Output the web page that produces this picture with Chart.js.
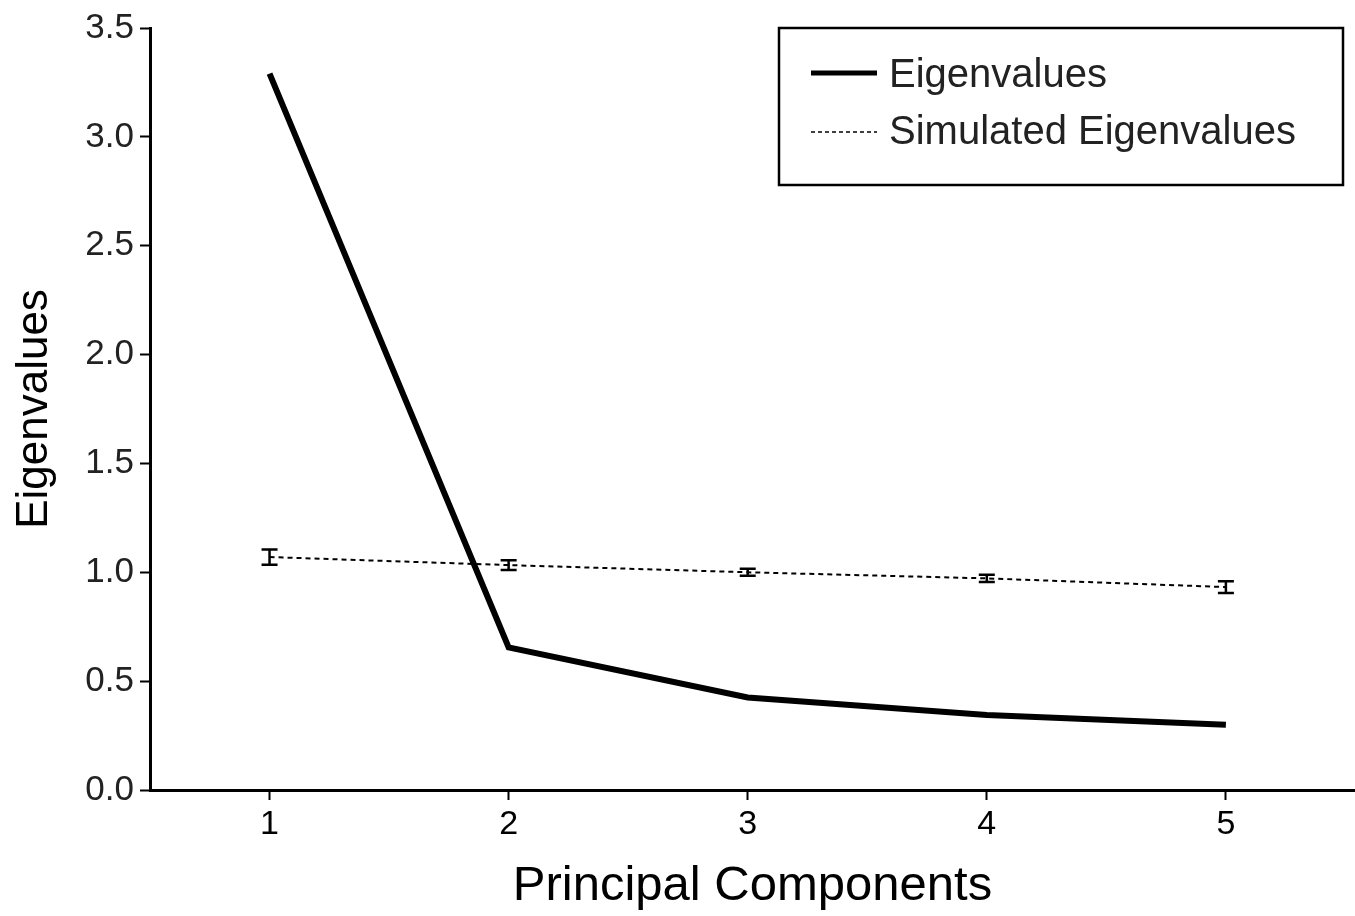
<!DOCTYPE html>
<html>
<head>
<meta charset="utf-8">
<script src="https://cdn.jsdelivr.net/npm/chart.js@4.4.0/dist/chart.umd.min.js"></script>
<style>
  html, body { margin: 0; padding: 0; background: #fff; }
  #wrap { width: 1355px; height: 916px; }
</style>
</head>
<body>
<div id="wrap"><canvas id="myChart"></canvas></div>
<script>
'use strict';

// data
let components = [1, 2, 3, 4, 5];
let eigenvalues = [3.29, 0.655, 0.425, 0.345, 0.30];
let simulated = [1.07, 1.033, 1.0, 0.972, 0.932];
let simulatedErr = [0.035, 0.022, 0.016, 0.017, 0.027];
let yTicks = [0, 0.5, 1, 1.5, 2, 2.5, 3, 3.5];

const fontFamily = '"Liberation Sans", Arial, sans-serif';

function toPoints(values) {
  let pts = [];
  for (let i = 0; i < components.length; i++) {
    pts.push({ x: components[i], y: values[i] });
  }
  return pts;
}

// error bars for the simulated line
const errorBars = {
  id: 'errorBars',
  afterDatasetsDraw(chart) {
    const ctx = chart.ctx;
    const xs = chart.scales.x;
    const ys = chart.scales.y;
    ctx.save();
    ctx.strokeStyle = '#000';
    ctx.lineWidth = 2.5;
    for (let i = 0; i < components.length; i++) {
      let px = xs.getPixelForValue(components[i]);
      let top = ys.getPixelForValue(simulated[i] + simulatedErr[i]);
      let bot = ys.getPixelForValue(simulated[i] - simulatedErr[i]);
      ctx.beginPath();
      ctx.moveTo(px, top);
      ctx.lineTo(px, bot);
      ctx.moveTo(px - 8, top);
      ctx.lineTo(px + 8, top);
      ctx.moveTo(px - 8, bot);
      ctx.lineTo(px + 8, bot);
      ctx.stroke();
    }
    ctx.restore();
  }
};

// boxed legend top right
const boxLegend = {
  id: 'boxLegend',
  afterDraw(chart) {
    const ctx = chart.ctx;
    let x0 = 779, y0 = 28, w = 564, h = 157;
    ctx.save();
    ctx.strokeStyle = '#000';
    ctx.lineWidth = 2.5;
    ctx.strokeRect(x0, y0, w, h);
    ctx.font = '40px ' + fontFamily;
    ctx.fillStyle = '#222';
    ctx.textBaseline = 'middle';
    ctx.fillText('Eigenvalues', 889, 76);
    ctx.fillText('Simulated Eigenvalues', 889, 133);
    ctx.lineWidth = 5;
    ctx.beginPath();
    ctx.moveTo(811, 73);
    ctx.lineTo(877, 73);
    ctx.stroke();
    ctx.lineWidth = 1.5;
    ctx.setLineDash([4, 3]);
    ctx.beginPath();
    ctx.moveTo(811, 132);
    ctx.lineTo(877, 132);
    ctx.stroke();
    ctx.restore();
  }
};

const data = {
  datasets: [
    {
      label: 'Eigenvalues',
      data: toPoints(eigenvalues),
      borderColor: '#000',
      borderWidth: 6,
      pointRadius: 0,
      tension: 0,
      borderJoinStyle: 'miter'
    },
    {
      label: 'Simulated Eigenvalues',
      data: toPoints(simulated),
      borderColor: '#000',
      borderWidth: 2,
      borderDash: [5, 4],
      pointRadius: 0,
      tension: 0
    }
  ]
};

const config = {
  type: 'line',
  data: data,
  options: {
    responsive: true,
    maintainAspectRatio: false,
    animation: false,
    layout: { padding: { top: 28, right: 0, left: 0, bottom: 0 } },
    plugins: {
      legend: { display: false },
      tooltip: { enabled: false }
    },
    scales: {
      x: {
        type: 'linear',
        min: 0.5,
        max: 5.54,
        afterBuildTicks(axis) {
          axis.ticks = components.map(v => ({ value: v }));
        },
        afterFit(axis) { axis.height = 126; },
        grid: { display: true, drawOnChartArea: false, drawTicks: true, tickLength: 10, tickWidth: 2, tickColor: '#000' },
        border: { display: true, color: '#000', width: 3 },
        ticks: {
          color: '#000',
          font: { family: fontFamily, size: 34 },
          padding: 4,
          maxRotation: 0
        },
        title: {
          display: true,
          text: 'Principal Components',
          color: '#000',
          font: { family: fontFamily, size: 49 },
          padding: { top: 4, bottom: 0 }
        }
      },
      y: {
        min: 0,
        max: 3.5,
        afterBuildTicks(axis) {
          axis.ticks = yTicks.map(v => ({ value: v }));
        },
        afterFit(axis) { axis.width = 150; },
        grid: { display: true, drawOnChartArea: false, drawTicks: true, tickLength: 10, tickWidth: 2, tickColor: '#000' },
        border: { display: true, color: '#000', width: 3 },
        ticks: {
          color: '#222',
          font: { family: fontFamily, size: 35 },
          padding: 6,
          callback: v => v.toFixed(1)
        },
        title: {
          display: true,
          text: 'Eigenvalues',
          color: '#000',
          font: { family: fontFamily, size: 44 },
          padding: { top: 8, bottom: 0 }
        }
      }
    }
  },
  plugins: [errorBars, boxLegend]
};

const myChart = new Chart(document.getElementById('myChart'), config);
</script>
</body>
</html>
